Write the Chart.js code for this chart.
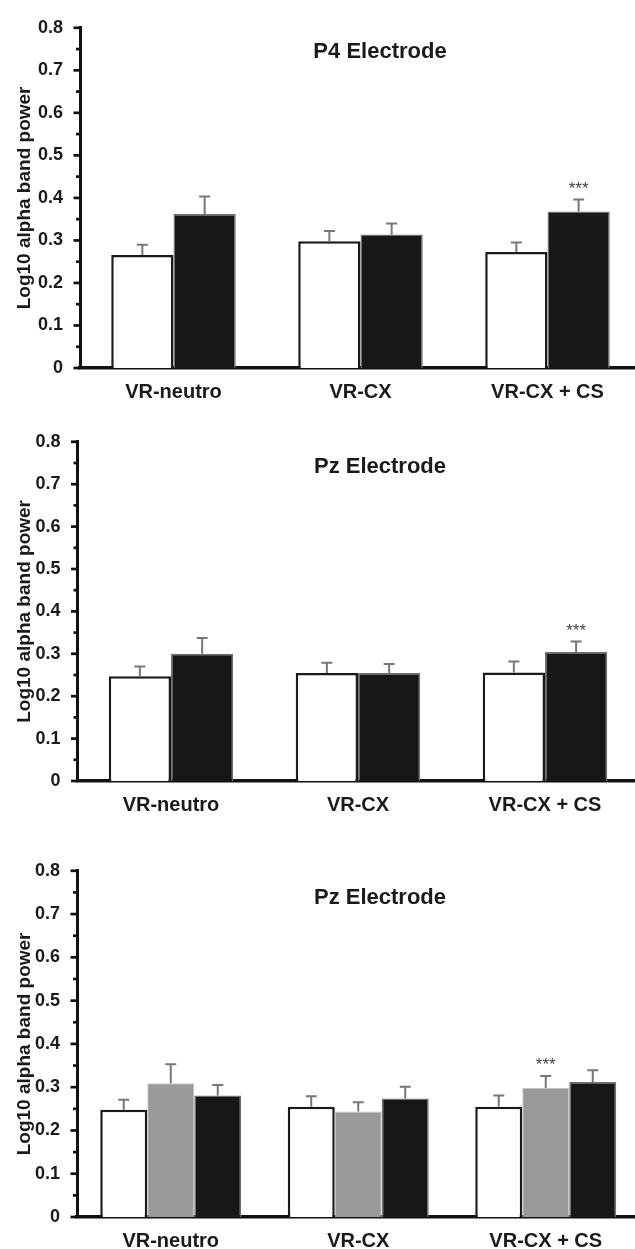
<!DOCTYPE html>
<html><head><meta charset="utf-8">
<script src="https://cdn.jsdelivr.net/npm/chart.js@4.4.1/dist/chart.umd.min.js"></script>
<style>
html,body{margin:0;padding:0;background:#fff;width:635px;height:1249px;overflow:hidden;position:relative;}
canvas{position:absolute;left:0;}
</style></head><body>
<canvas id="c1" width="645" height="408" style="top:0px"></canvas>
<canvas id="c2" width="645" height="407" style="top:414px"></canvas>
<canvas id="c3" width="645" height="414" style="top:843px"></canvas>
<script>
// ---- data ----
const categories = ['VR-neutro', 'VR-CX', 'VR-CX + CS'];
const yAxisTitle = 'Log10 alpha band power';

// Panel 1: P4 Electrode
const p4Title = 'P4 Electrode';
const p4White = [0.266, 0.298, 0.273];
const p4WhiteErr = [0.024, 0.024, 0.022];
const p4Black = [0.362, 0.314, 0.368];
const p4BlackErr = [0.041, 0.026, 0.028];
const p4BlackStars = ['', '', '***'];

// Panel 2: Pz Electrode
const pzTitle = 'Pz Electrode';
const pzWhite = [0.247, 0.255, 0.256];
const pzWhiteErr = [0.023, 0.024, 0.026];
const pzBlack = [0.300, 0.255, 0.304];
const pzBlackErr = [0.037, 0.021, 0.025];
const pzBlackStars = ['', '', '***'];

// Panel 3: Pz Electrode (three groups)
const pz3Title = 'Pz Electrode';
const pz3White = [0.248, 0.255, 0.255];
const pz3WhiteErr = [0.023, 0.024, 0.026];
const pz3Gray = [0.309, 0.244, 0.298];
const pz3GrayErr = [0.044, 0.021, 0.028];
const pz3GrayStars = ['', '', '***'];
const pz3Black = [0.281, 0.274, 0.312];
const pz3BlackErr = [0.024, 0.027, 0.027];

// ---- styling ----
const FONT = "'Liberation Sans', Arial, Helvetica, sans-serif";
const TEXT = '#1a1a1a';
const AXIS = '#111111';

const WHITE_STYLE = {backgroundColor: '#ffffff', borderColor: '#1a1a1a', borderWidth: 2.5};
const BLACK_STYLE = {backgroundColor: '#171717', borderColor: '#707070', borderWidth: 1.5};
const GRAY_STYLE = {backgroundColor: '#999999', borderColor: '#c4c4c4', borderWidth: 1};

const decor = {
  id: 'decor',
  afterDatasetsDraw(chart) {
    const ctx = chart.ctx;
    const y = chart.scales.y;
    chart.data.datasets.forEach((ds, i) => {
      const meta = chart.getDatasetMeta(i);
      meta.data.forEach((el, j) => {
        const top = y.getPixelForValue(ds.data[j] + ds.errors[j]);
        ctx.save();
        ctx.strokeStyle = '#777777';
        ctx.lineWidth = 2;
        ctx.beginPath();
        ctx.moveTo(el.x, el.y);
        ctx.lineTo(el.x, top);
        ctx.moveTo(el.x - 5.5, top);
        ctx.lineTo(el.x + 5.5, top);
        ctx.stroke();
        if (ds.stars && ds.stars[j]) {
          ctx.fillStyle = '#444444';
          ctx.font = '17px ' + FONT;
          ctx.textAlign = 'center';
          ctx.textBaseline = 'alphabetic';
          ctx.fillText(ds.stars[j], el.x, top - 6);
        }
        ctx.restore();
      });
    });
  },
  afterDraw(chart, args, opts) {
    const ctx = chart.ctx;
    const y = chart.scales.y;
    const ax = chart.chartArea.left;
    ctx.save();
    ctx.strokeStyle = AXIS;
    ctx.lineWidth = 2.7;
    const t = y.ticks;
    for (let k = 0; k < t.length; k++) {
      const py = y.getPixelForValue(t[k].value);
      ctx.beginPath(); ctx.moveTo(ax - 6.5, py); ctx.lineTo(ax, py); ctx.stroke();
      if (k < t.length - 1) {
        const my = y.getPixelForValue((t[k].value + t[k + 1].value) / 2);
        ctx.beginPath(); ctx.moveTo(ax - 4, my); ctx.lineTo(ax, my); ctx.stroke();
      }
    }
    ctx.fillStyle = TEXT;
    ctx.font = 'bold 22px ' + FONT;
    ctx.textAlign = 'center';
    ctx.textBaseline = 'middle';
    ctx.fillText(opts.title, opts.titleX, chart.chartArea.top + opts.titleDy);
    ctx.restore();
  }
};

function makeChart(id, datasets, o) {
  return new Chart(document.getElementById(id), {
    type: 'bar',
    data: {labels: categories, datasets: datasets},
    options: {
      responsive: false,
      animation: false,
      devicePixelRatio: 1,
      layout: {padding: {top: 20, right: o.padRight, bottom: 0, left: 0}},
      datasets: {bar: {categoryPercentage: o.catPct, barPercentage: 1}},
      plugins: {
        legend: {display: false},
        tooltip: {enabled: false},
        decor: {title: o.title, titleX: 380, titleDy: o.titleDy}
      },
      scales: {
        x: {
          grid: {display: false, drawTicks: false},
          border: {display: true, width: 3.5, color: AXIS},
          ticks: {padding: 12, color: TEXT, font: {family: FONT, size: 20, weight: 'bold'}, maxRotation: 0, autoSkip: false},
          afterFit(s) { s.height = 40; }
        },
        y: {
          min: 0, max: 0.8,
          grid: {display: false, drawTicks: false},
          border: {display: true, width: 3, color: AXIS},
          ticks: {stepSize: 0.1, padding: 17, color: TEXT, font: {family: FONT, size: 18, weight: 'bold'}, autoSkip: false},
          title: {display: true, text: yAxisTitle, color: TEXT, font: {family: FONT, size: 19, weight: 'bold'}, padding: {top: 13, bottom: 0}},
          afterFit(s) { s.width = o.axisX; }
        }
      }
    },
    plugins: [decor]
  });
}

makeChart('c1', [
  Object.assign({label: 'white', data: p4White, errors: p4WhiteErr}, WHITE_STYLE),
  Object.assign({label: 'black', data: p4Black, errors: p4BlackErr, stars: p4BlackStars}, BLACK_STYLE)
], {title: p4Title, titleDy: 24.5, axisX: 80, padRight: 4, catPct: 0.666});

makeChart('c2', [
  Object.assign({label: 'white', data: pzWhite, errors: pzWhiteErr}, WHITE_STYLE),
  Object.assign({label: 'black', data: pzBlack, errors: pzBlackErr, stars: pzBlackStars}, BLACK_STYLE)
], {title: pzTitle, titleDy: 25, axisX: 77.5, padRight: 6.5, catPct: 0.666});

makeChart('c3', [
  Object.assign({label: 'white', data: pz3White, errors: pz3WhiteErr}, WHITE_STYLE),
  Object.assign({label: 'gray', data: pz3Gray, errors: pz3GrayErr, stars: pz3GrayStars}, GRAY_STYLE),
  Object.assign({label: 'black', data: pz3Black, errors: pz3BlackErr}, BLACK_STYLE)
], {title: pz3Title, titleDy: 27, axisX: 77, padRight: 5.5, catPct: 0.752});
</script>
</body></html>
